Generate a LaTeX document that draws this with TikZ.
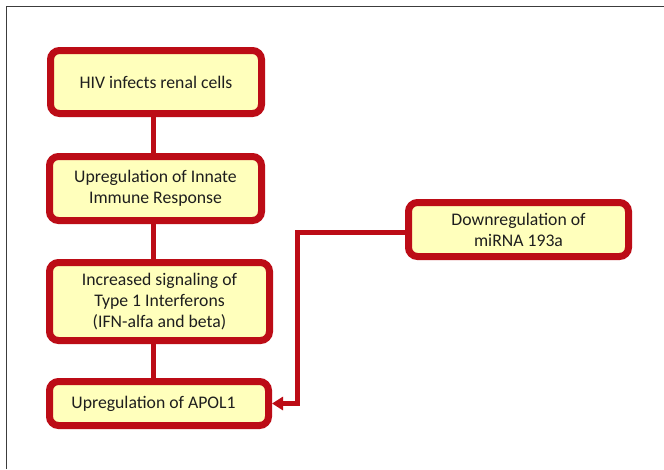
\documentclass[tikz,border=0pt]{standalone}
\usepackage{fontspec}
\setmainfont{Carlito}
\usetikzlibrary{arrows.meta}
\definecolor{boxred}{RGB}{188,12,22}
\definecolor{boxfill}{RGB}{255,255,188}
\definecolor{txt}{RGB}{30,30,30}
\definecolor{frame}{RGB}{60,60,60}
\tikzset{
  stepbox/.style={draw=boxred, fill=boxfill, line width=7pt, rounded corners=9pt,
    inner sep=0pt, align=center, text=txt,
    font=\fontsize{17.7}{21}\selectfont},
  link/.style={draw=boxred, line width=5pt},
}
\begin{document}
\begin{tikzpicture}[x=1pt,y=-1pt]
\useasboundingbox (0,0) rectangle (664,469);
\fill[white] (0,0) rectangle (664,469);
\draw[frame, line width=1.5pt] (6.5,469) -- (6.5,6.5) -- (664,6.5);

\node[stepbox, minimum width=211pt, minimum height=63pt] (b1) at (156,82) {HIV infects renal cells};
\node[stepbox, minimum width=212pt, minimum height=64pt] (b2) at (155.5,188.5) {Upregulation of Innate\\Immune Response};
\node[stepbox, minimum width=220pt, minimum height=78pt] (b3) at (159.5,301.5) {Increased signaling of\\Type 1 Interferons\\(IFN-alfa and beta)};
\node[stepbox, minimum width=219pt, minimum height=44pt] (b4) at (159,403.5) {\hspace*{-11pt}Upregulation of APOL1};
\node[stepbox, minimum width=220pt, minimum height=54pt] (b5) at (518.5,229.5) {Downregulation of\\miRNA 193a};

\coordinate (cx) at (153,0);
\draw[link] (b1.south -| cx) -- (b2.north -| cx);
\draw[link] (b2.south -| cx) -- (b3.north -| cx);
\draw[link] (b3.south -| cx) -- (b4.north -| cx);

\coordinate (t) at (297,232);
\draw[link, -{Triangle[length=11pt,width=13pt]}] (b5.west |- t) -- (t) |- (b4.east);
\end{tikzpicture}
\end{document}
